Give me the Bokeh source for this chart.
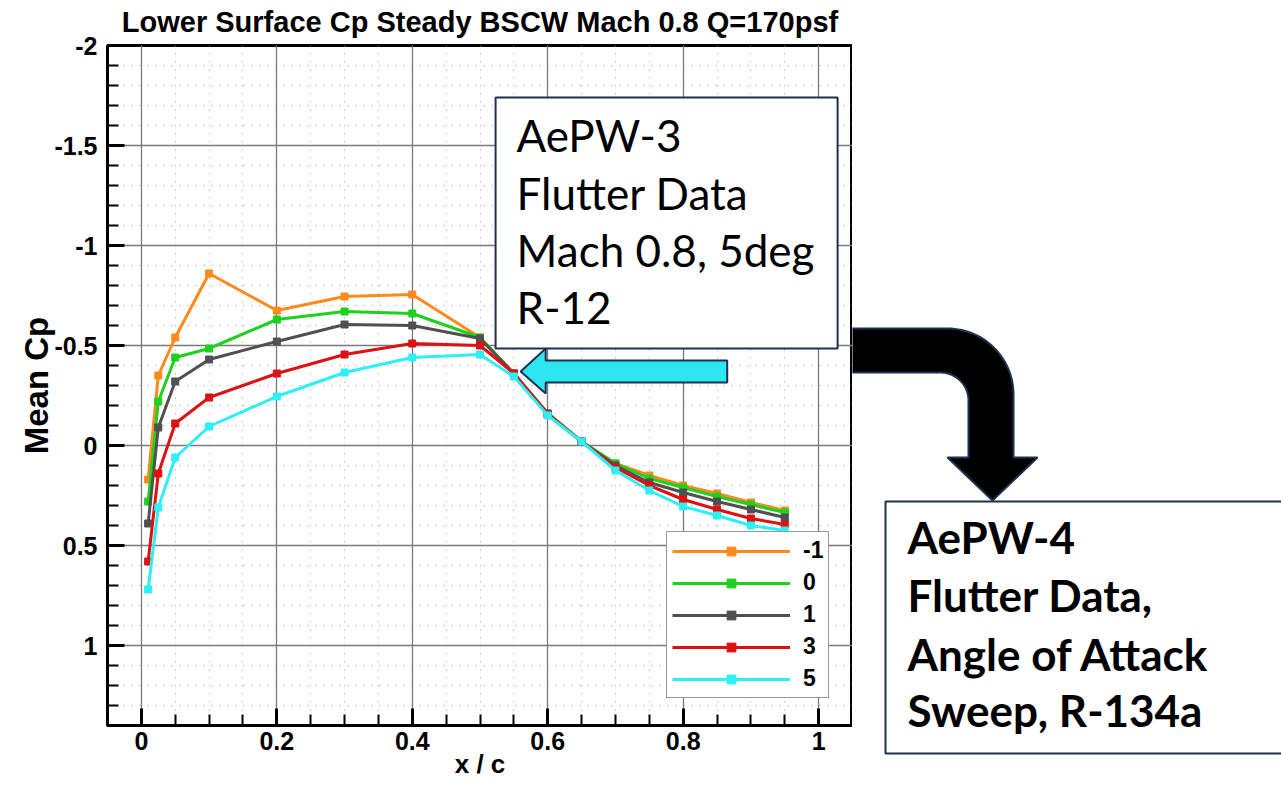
import numpy as np
from bokeh.plotting import figure
from bokeh.models import Range1d, FixedTicker, Legend, LegendItem, Title
from bokeh.layouts import row
from bokeh.core.properties import value
from bokeh.embed import file_html
from bokeh.resources import INLINE

# ---------------- data ----------------
x_c = [0.01, 0.025, 0.05, 0.1, 0.2, 0.3, 0.4, 0.5, 0.55, 0.6, 0.65, 0.7, 0.75, 0.8, 0.85, 0.9, 0.95]
cp_m1 = [0.17, -0.35, -0.54, -0.86, -0.675, -0.745, -0.755, -0.54, -0.36, -0.16, -0.02, 0.09, 0.15, 0.20, 0.24, 0.285, 0.325]
cp_0 = [0.28, -0.22, -0.44, -0.485, -0.63, -0.67, -0.66, -0.54, -0.36, -0.16, -0.02, 0.09, 0.165, 0.21, 0.255, 0.295, 0.335]
cp_1 = [0.39, -0.09, -0.32, -0.43, -0.52, -0.605, -0.60, -0.535, -0.36, -0.16, -0.02, 0.10, 0.185, 0.235, 0.28, 0.32, 0.36]
cp_3 = [0.58, 0.14, -0.11, -0.24, -0.36, -0.455, -0.51, -0.50, -0.36, -0.155, -0.02, 0.11, 0.20, 0.27, 0.32, 0.365, 0.395]
cp_5 = [0.72, 0.31, 0.06, -0.095, -0.245, -0.365, -0.44, -0.455, -0.345, -0.15, -0.02, 0.125, 0.225, 0.305, 0.35, 0.40, 0.425]
series_labels = ["-1", "0", "1", "3", "5"]
series_colors = ["#FF8A1C", "#1FD11F", "#505050", "#DD1111", "#2CF0F6"]

x_ticks = [0, 0.2, 0.4, 0.6, 0.8, 1]
x_tick_labels = ["0", "0.2", "0.4", "0.6", "0.8", "1"]
y_ticks = [-2, -1.5, -1, -0.5, 0, 0.5, 1]
y_tick_labels = ["-2", "-1.5", "-1", "-0.5", "0", "0.5", "1"]

title_text = "Lower Surface Cp Steady BSCW Mach 0.8 Q=170psf"
box1_lines = ["AePW-3", "Flutter Data", "Mach 0.8, 5deg", "R-12"]
box2_lines = ["AePW-4", "Flutter Data,", "Angle of Attack", "Sweep, R-134a"]

AX_FONT = "Liberation Sans"
BOX_FONT = "Lato"
NAVY = "#1F3050"

# ---------------- main chart ----------------
p = figure(width=852, height=785, x_range=Range1d(-0.05, 1.05), y_range=Range1d(1.4, -2),
           output_backend="svg", toolbar_location=None,
           min_border_left=107, min_border_right=0, min_border_top=45, min_border_bottom=60)
p.frame_align = False
p.background_fill_color = "white"
p.border_fill_color = "white"
p.outline_line_color = "black"
p.outline_line_width = 3

# spacer (closest to the frame) then the real title above it
spacer = Title(text=" ", text_font_size="6px", standoff=0)
p.add_layout(spacer, "above")
main_title = Title(text=title_text, align="center", text_font=AX_FONT, text_font_style="bold",
                   text_font_size="29px", text_color="black", standoff=0)
p.add_layout(main_title, "above")

x_minor = [round(0.05 * i, 2) for i in range(-1, 22)]
y_minor = [round(-2 + 0.1 * i, 1) for i in range(35)]
p.xaxis.ticker = FixedTicker(ticks=x_ticks, minor_ticks=x_minor)
p.yaxis.ticker = FixedTicker(ticks=y_ticks, minor_ticks=y_minor)
p.xaxis.major_label_overrides = dict(zip(x_ticks, x_tick_labels))
p.yaxis.major_label_overrides = dict(zip(y_ticks, y_tick_labels))

for ax in (p.xaxis, p.yaxis):
    ax.axis_line_width = 3
    ax.axis_line_color = "black"
    ax.major_tick_in = 17
    ax.major_tick_out = 0
    ax.minor_tick_in = 11
    ax.minor_tick_out = 0
    ax.major_tick_line_width = 3
    ax.minor_tick_line_width = 2
    ax.major_tick_line_color = "black"
    ax.minor_tick_line_color = "black"
    ax.major_label_text_font = AX_FONT
    ax.major_label_text_font_style = "bold"
    ax.major_label_text_font_size = "25px"
    ax.major_label_text_color = "black"
    ax.axis_label_text_font = AX_FONT
    ax.axis_label_text_font_style = "bold"
    ax.axis_label_text_color = "black"
p.xaxis.axis_label_text_font_size = "26px"
p.yaxis.axis_label_text_font_size = "33px"
p.xaxis.major_label_standoff = 6
p.xaxis.axis_label_standoff = -4
p.yaxis.major_label_standoff = 10
p.yaxis.axis_label_standoff = -4
p.xaxis.axis_label = "x / c"
p.yaxis.axis_label = "Mean Cp"

for g in (p.xgrid, p.ygrid):
    g.grid_line_color = "#7a7a7a"
    g.grid_line_width = 1.3
    g.minor_grid_line_color = "#9a9a9a"
    g.minor_grid_line_width = 1
    g.minor_grid_line_dash = "1 7"

items = []
for lab, col, ys in zip(series_labels, series_colors, [cp_m1, cp_0, cp_1, cp_3, cp_5]):
    ln = p.line(x_c, ys, line_color=col, line_width=3)
    sc = p.scatter(x_c, ys, marker="square", size=7, fill_color=col, line_color=col)
    items.append(LegendItem(label=lab, renderers=[ln, sc]))

legend = Legend(items=items, location=(559, 27))
legend.glyph_width = 118
legend.glyph_height = 22
legend.label_height = 22
legend.spacing = 5
legend.padding = 5
legend.margin = 0
legend.label_standoff = 13
legend.label_text_font = AX_FONT
legend.label_text_font_style = "bold"
legend.label_text_font_size = "23px"
legend.label_text_color = "black"
legend.border_line_color = "#333333"
legend.border_line_width = 1
legend.background_fill_color = "white"
legend.background_fill_alpha = 1
p.add_layout(legend)

# Box 1 (AePW-3) and cyan arrow, inside the plot frame
p.quad(left=[0.523], right=[1.028], top=[-1.74], bottom=[-0.485],
       fill_color="white", line_color=NAVY, line_width=2)
p.text(x=[0.554] * 4, y=[-1.555, -1.265, -0.98, -0.695], text=box1_lines,
       text_font=value(BOX_FONT), text_font_size="44px", text_color="black",
       text_baseline="alphabetic", text_align="left")
p.patch(x=[0.560, 0.597, 0.597, 0.865, 0.865, 0.597, 0.597],
        y=[-0.37, -0.485, -0.425, -0.425, -0.315, -0.315, -0.26],
        fill_color="#2DE6EF", line_color=NAVY, line_width=2)

# ---------------- right panel (annotations) ----------------
p2 = figure(width=429, height=785, x_range=Range1d(852, 1281), y_range=Range1d(785, 0),
            output_backend="svg", toolbar_location=None,
            x_axis_location=None, y_axis_location=None, min_border=0)
p2.frame_align = False
p2.grid.visible = False
p2.outline_line_color = None
p2.background_fill_color = "white"
p2.border_fill_color = "white"

t_out = np.linspace(0, np.pi / 2, 30)
t_in = np.linspace(np.pi / 2, 0, 30)
ax_ = [846] + list(947 + 66 * np.sin(t_out)) + [1013, 1037, 992, 947, 968] + list(940 + 28 * np.sin(t_in)) + [846]
ay_ = [328] + list(394 - 66 * np.cos(t_out)) + [457, 457, 500, 457, 457] + list(400 - 28 * np.cos(t_in)) + [372]
p2.patch(ax_, ay_, fill_color="black", line_color=NAVY, line_width=2)

p2.quad(left=[885], right=[1300], top=[501], bottom=[753],
        fill_color="white", line_color=NAVY, line_width=2)
p2.text(x=[907] * 4, y=[536, 594, 653, 709], text=box2_lines,
        text_font=value(BOX_FONT), text_font_style="bold", text_font_size="44px",
        text_color="black", text_baseline="alphabetic", text_align="left")

layout = row(p, p2, spacing=0)
open("out.html", "w").write(file_html(layout, INLINE))
